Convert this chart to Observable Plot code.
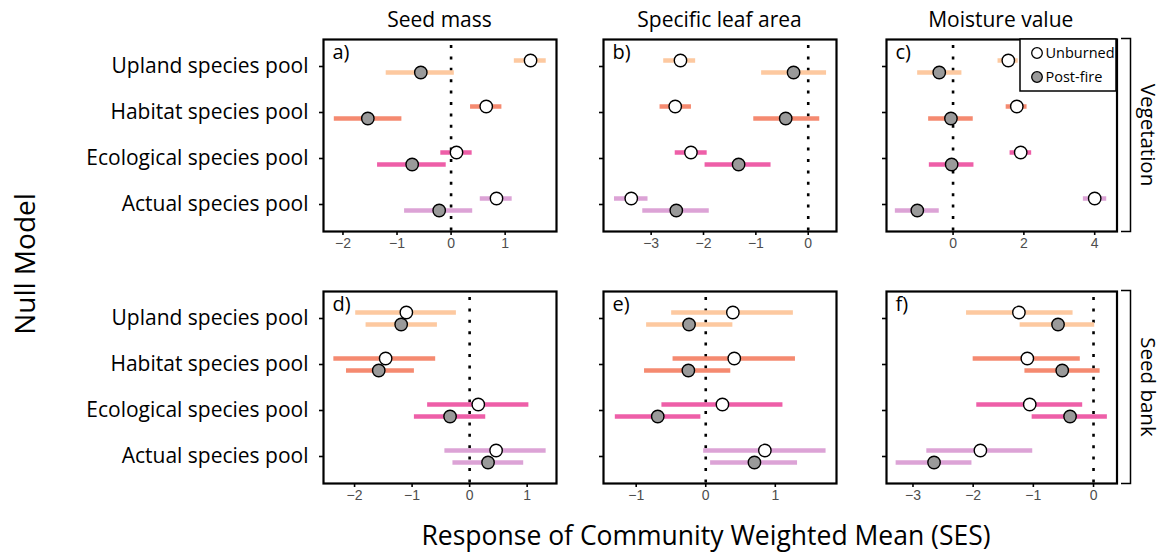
<!DOCTYPE html>
<html><head><meta charset="utf-8">
<script src="https://cdn.jsdelivr.net/npm/d3@7"></script>
<script src="https://cdn.jsdelivr.net/npm/@observablehq/plot@0.6"></script>
<style>
body{margin:0;background:#fff;}
#chart{position:relative;width:1164px;height:553px;overflow:hidden;}
#chart > svg{position:absolute;}
</style></head><body><div id="chart"></div>
<script>
const pools = ["Upland species pool","Habitat species pool","Ecological species pool","Actual species pool"];
const poolColors = ["#FDC9A0","#F58A70","#EE5FA8","#DCA3D6"];
const traits = ["Seed mass","Specific leaf area","Moisture value"];
const compartments = ["Vegetation","Seed bank"];
const panelLetters = ["a)","b)","c)","d)","e)","f)"];
const treatments = ["Unburned","Post-fire"];
const treatmentFills = ["#ffffff","#9a9a9a"];
const xAxisTitle = "Response of Community Weighted Mean (SES)";
const yAxisTitle = "Null Model";

// [mean, lower, upper] per pool (Upland, Habitat, Ecological, Actual)
const vegSeedMassUnburned = [[1.47,1.17,1.76],[0.65,0.36,0.94],[0.10,-0.19,0.39],[0.84,0.54,1.13]];
const vegSeedMassPostFire = [[-0.56,-1.20,0.06],[-1.54,-2.16,-0.91],[-0.72,-1.36,-0.09],[-0.22,-0.86,0.40]];
const vegSLAUnburned = [[-2.44,-2.76,-2.15],[-2.54,-2.83,-2.23],[-2.24,-2.54,-1.93],[-3.38,-3.70,-3.06]];
const vegSLAPostFire = [[-0.28,-0.89,0.35],[-0.43,-1.04,0.22],[-1.33,-1.97,-0.71],[-2.52,-3.16,-1.89]];
const vegMoistureUnburned = [[1.56,1.27,1.84],[1.80,1.50,2.09],[1.91,1.61,2.22],[4.00,3.68,4.34]];
const vegMoisturePostFire = [[-0.39,-1.00,0.25],[-0.06,-0.69,0.57],[-0.04,-0.67,0.59],[-1.01,-1.63,-0.39]];
const sbSeedMassUnburned = [[-1.10,-1.98,-0.23],[-1.46,-2.36,-0.59],[0.15,-0.73,1.03],[0.46,-0.43,1.33]];
const sbSeedMassPostFire = [[-1.19,-1.80,-0.56],[-1.58,-2.14,-0.96],[-0.34,-0.96,0.28],[0.32,-0.29,0.94]];
const sbSLAUnburned = [[0.39,-0.49,1.26],[0.41,-0.47,1.29],[0.24,-0.63,1.11],[0.85,-0.03,1.73]];
const sbSLAPostFire = [[-0.24,-0.85,0.39],[-0.25,-0.88,0.36],[-0.69,-1.30,-0.07],[0.70,0.07,1.32]];
const sbMoistureUnburned = [[-1.24,-2.11,-0.34],[-1.10,-2.00,-0.22],[-1.06,-1.94,-0.18],[-1.88,-2.77,-1.01]];
const sbMoisturePostFire = [[-0.59,-1.22,0.02],[-0.52,-1.14,0.11],[-0.39,-1.02,0.23],[-2.65,-3.28,-2.02]];

const xDomains = [[-2.36,1.95],[-3.91,0.54],[-1.88,4.63],[-2.54,1.51],[-1.47,1.88],[-3.44,0.39]];
const xTicks = [[-2,-1,0,1],[-3,-2,-1,0],[0,2,4],[-2,-1,0,1],[-1,0,1],[-3,-2,-1,0]];

const panelSeries = [
  [vegSeedMassUnburned, vegSeedMassPostFire],
  [vegSLAUnburned, vegSLAPostFire],
  [vegMoistureUnburned, vegMoisturePostFire],
  [sbSeedMassUnburned, sbSeedMassPostFire],
  [sbSLAUnburned, sbSLAPostFire],
  [sbMoistureUnburned, sbMoisturePostFire]
];

// layout
const frameLefts = [323, 603, 885.5];
const frameWidths = [233, 233, 230.5];
const frameTops = [39, 291];
const frameH = 192;
const mt = 2, mb = 30, mr = 2;
const container = document.getElementById("chart");
const FONT = "'Open Sans', 'Noto Sans', sans-serif";
const intFormat = d3.format("d");

function rows(arr, t) {
  return arr.map((v, i) => ({pool: pools[i], treatment: treatments[t], mean: v[0], lo: v[1], hi: v[2]}));
}

for (let p = 0; p < 6; p++) {
  const col = p % 3, row = Math.floor(p / 3);
  const showLabels = col === 0;
  const ml = showLabels ? frameLefts[0] : 10;
  const left = frameLefts[col] - ml;
  const top = frameTops[row] - mt;
  const unb = rows(panelSeries[p][0], 0);
  const pf = rows(panelSeries[p][1], 1);
  const chart = Plot.plot({
    width: ml + frameWidths[col] + mr,
    height: frameH + mt + mb,
    marginLeft: ml, marginRight: mr, marginTop: mt, marginBottom: mb,
    x: {domain: xDomains[p]},
    y: {type: "point", domain: pools, padding: 0.58},
    color: {domain: pools, range: poolColors},
    style: {fontFamily: "'Liberation Sans', Arial, sans-serif", background: "transparent", overflow: "visible"},
    marks: [
      Plot.ruleX([0], {stroke: "black", strokeWidth: 2.6, strokeDasharray: "3,8.4", insetTop: 6}),
      Plot.ruleY(unb, {y: "pool", x1: "lo", x2: "hi", stroke: "pool", strokeWidth: 4.5, dy: -6}),
      Plot.ruleY(pf, {y: "pool", x1: "lo", x2: "hi", stroke: "pool", strokeWidth: 4.5, dy: 6}),
      Plot.dot(unb, {x: "mean", y: "pool", r: 6.2, fill: treatmentFills[0], stroke: "black", strokeWidth: 1.4, dy: -6}),
      Plot.dot(pf, {x: "mean", y: "pool", r: 6.2, fill: treatmentFills[1], stroke: "black", strokeWidth: 1.4, dy: 6}),
      Plot.frame({stroke: "black", strokeWidth: 2.2}),
      Plot.axisX({ticks: xTicks[p], tickFormat: intFormat, tickSize: 4, tickPadding: 3, stroke: "black", strokeWidth: 1.6, fill: "#4d4d4d", fontSize: 14, label: null}),
      Plot.axisY({tickSize: 4, tickPadding: 11, stroke: "black", strokeWidth: 1.6,
        tickFormat: showLabels ? (d => d) : (() => ""), fontFamily: FONT, fontSize: 21, fill: "black", label: null}),
      Plot.text([panelLetters[p]], {frameAnchor: "top-left", dx: 9, dy: 5, fontSize: 20, fontFamily: FONT, textAnchor: "start", lineAnchor: "top", fill: "black"})
    ]
  });
  chart.style.left = left + "px";
  chart.style.top = top + "px";
  container.appendChild(chart);
}

// overlay: titles, strip labels, legend
const svg = d3.select(container).append("svg")
  .attr("width", 1164).attr("height", 553)
  .style("left", "0px").style("top", "0px")
  .style("font-family", FONT);

traits.forEach((t, i) => {
  svg.append("text").attr("x", frameLefts[i] + frameWidths[i] / 2).attr("y", 27)
    .attr("text-anchor", "middle").attr("font-size", 21).text(t);
});

svg.append("text").attr("transform", "translate(35,264) rotate(-90)")
  .attr("text-anchor", "middle").attr("font-size", 28).text(yAxisTitle);

svg.append("text").attr("x", 706).attr("y", 545)
  .attr("text-anchor", "middle").attr("font-size", 26.5).text(xAxisTitle);

compartments.forEach((c, i) => {
  const y0 = frameTops[i] - 0.5, y1 = frameTops[i] + frameH + 0.5;
  svg.append("path").attr("d", `M1121,${y0}H1130.5V${y1}H1121`)
    .attr("fill", "none").attr("stroke", "black").attr("stroke-width", 1.5);
  svg.append("text").attr("transform", `translate(1141,${(y0 + y1) / 2}) rotate(90)`)
    .attr("text-anchor", "middle").attr("font-size", 20.5).text(c);
});

// legend (inside panel c)
const lg = svg.append("g");
lg.append("rect").attr("x", 1020).attr("y", 39).attr("width", 96).attr("height", 52)
  .attr("fill", "white").attr("stroke", "black").attr("stroke-width", 1.5);
treatments.forEach((t, i) => {
  const cy = 53 + i * 24;
  lg.append("circle").attr("cx", 1037).attr("cy", cy).attr("r", 5.3)
    .attr("fill", treatmentFills[i]).attr("stroke", "black").attr("stroke-width", 1.3);
  lg.append("text").attr("x", 1045.5).attr("y", cy + 5).attr("font-size", 14.5).text(t);
});
</script></body></html>
